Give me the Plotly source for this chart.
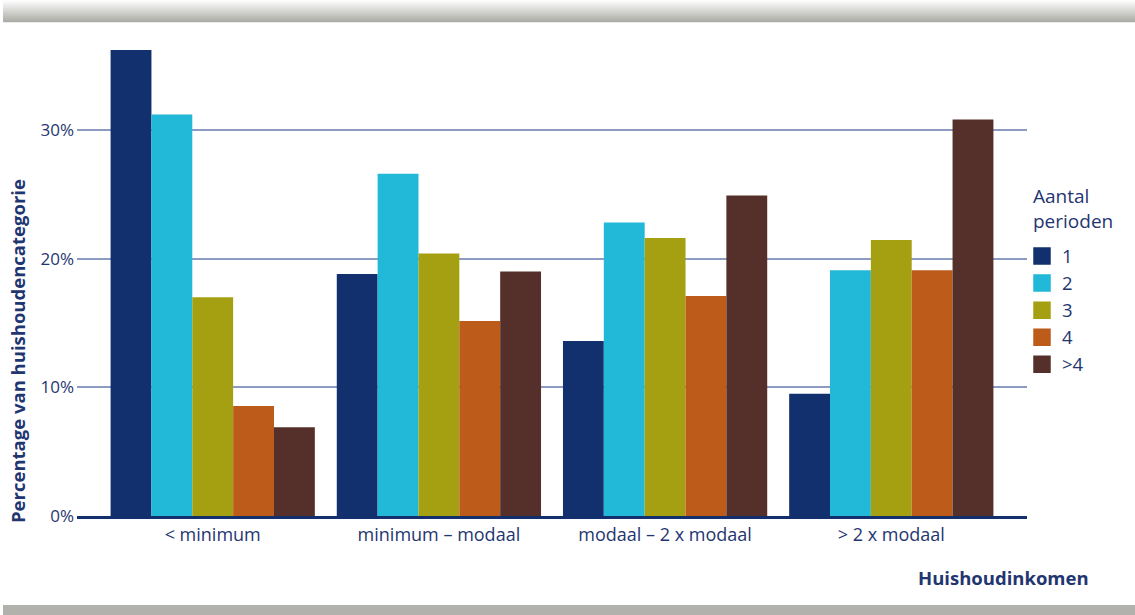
import plotly.graph_objects as go

categories = ["< minimum", "minimum – modaal", "modaal – 2 x modaal", "> 2 x modaal"]
series_names = ["1", "2", "3", "4", ">4"]
values_1 = [36.2, 18.8, 13.6, 9.5]
values_2 = [31.2, 26.6, 22.8, 19.1]
values_3 = [17.0, 20.4, 21.6, 21.45]
values_4 = [8.55, 15.15, 17.1, 19.1]
values_5 = [6.9, 19.0, 24.9, 30.8]
series_values = [values_1, values_2, values_3, values_4, values_5]
colors = ["#13306E", "#22B8D8", "#A5A012", "#BD5B1B", "#55302A"]
tick_vals = [0, 10, 20, 30]
tick_text = ["0%", "10%", "20%", "30%"]

W, H = 1135, 615
ML, MR, MT, MB = 77, 108, 40, 99
PW = W - ML - MR
PH = H - MT - MB
TEXT = "#1F3670"
FONT = "Open Sans"


def px_x(px):
    return (px - ML) / PW


def px_y(py):
    return (H - MB - py) / PH


fig = go.Figure()
for name, vals, col in zip(series_names, series_values, colors):
    fig.add_trace(go.Bar(x=categories, y=vals, name=name, marker=dict(color=col, line=dict(width=0)),
                         showlegend=False))
for name, col in zip(series_names, colors):
    fig.add_trace(go.Scatter(x=[None], y=[None], mode="markers", name=name,
                             marker=dict(symbol="square", size=16, color=col, line=dict(color=col, width=1.5))))

shapes = []
# top gradient band
n = 11
for i in range(n):
    t = i / (n - 1)
    c0 = (252, 252, 252)
    c1 = (174, 174, 168)
    c = tuple(int(round(a + (b - a) * t)) for a, b in zip(c0, c1))
    y0 = i * 2
    shapes.append(dict(type="rect", xref="paper", yref="paper", x0=px_x(3), x1=px_x(1135),
                       y0=px_y(y0 + 2.2), y1=px_y(y0), line=dict(width=0),
                       fillcolor="rgb(%d,%d,%d)" % c, layer="below"))
# bottom band
shapes.append(dict(type="rect", xref="paper", yref="paper", x0=px_x(3), x1=px_x(1135),
                   y0=px_y(615), y1=px_y(605), line=dict(width=0), fillcolor="#B2B1AC", layer="below"))

fig.update_layout(
    width=W, height=H,
    margin=dict(l=ML, r=MR, t=MT, b=MB, pad=0),
    paper_bgcolor="white", plot_bgcolor="white",
    barmode="group", bargap=0.097, bargroupgap=0,
    font=dict(family=FONT, color=TEXT, size=18),
    xaxis=dict(range=[-0.6, 3.6], showline=True, linecolor="#13306E", linewidth=3,
               ticks="", tickfont=dict(size=18, color=TEXT), showgrid=False, fixedrange=True),
    yaxis=dict(range=[0, PH / 12.87], tickvals=tick_vals, ticktext=tick_text,
               showgrid=True, gridcolor="#8D9BC1", gridwidth=1.5, zeroline=False,
               tickfont=dict(size=17, color=TEXT), ticks="", ticklabelstandoff=2, layer="below traces"),
    legend=dict(x=px_x(1022), y=px_y(237.5), xanchor="left", yanchor="top",
                font=dict(size=18.5, color=TEXT), bgcolor="rgba(0,0,0,0)", tracegroupgap=0),
    shapes=shapes,
    annotations=[
        dict(text="Aantal<br>perioden", xref="paper", yref="paper", align="left",
             x=px_x(1031), y=px_y(209), showarrow=False,
             font=dict(size=19, color=TEXT), xanchor="left", yanchor="middle"),
        dict(text="<b>Percentage van huishoudencategorie</b>", xref="paper", yref="paper",
             x=px_x(17), y=px_y(351), textangle=-90, showarrow=False,
             font=dict(size=18.5, color=TEXT), xanchor="center", yanchor="middle"),
        dict(text="<b>Huishoudinkomen</b>", xref="paper", yref="paper",
             x=px_x(1091), y=px_y(577), showarrow=False,
             font=dict(size=18.5, color=TEXT), xanchor="right", yanchor="middle"),
    ],
)

fig.write_html("out.html", config={"displayModeBar": False},
               post_script="document.body.style.margin='0';document.body.style.padding='0';")
